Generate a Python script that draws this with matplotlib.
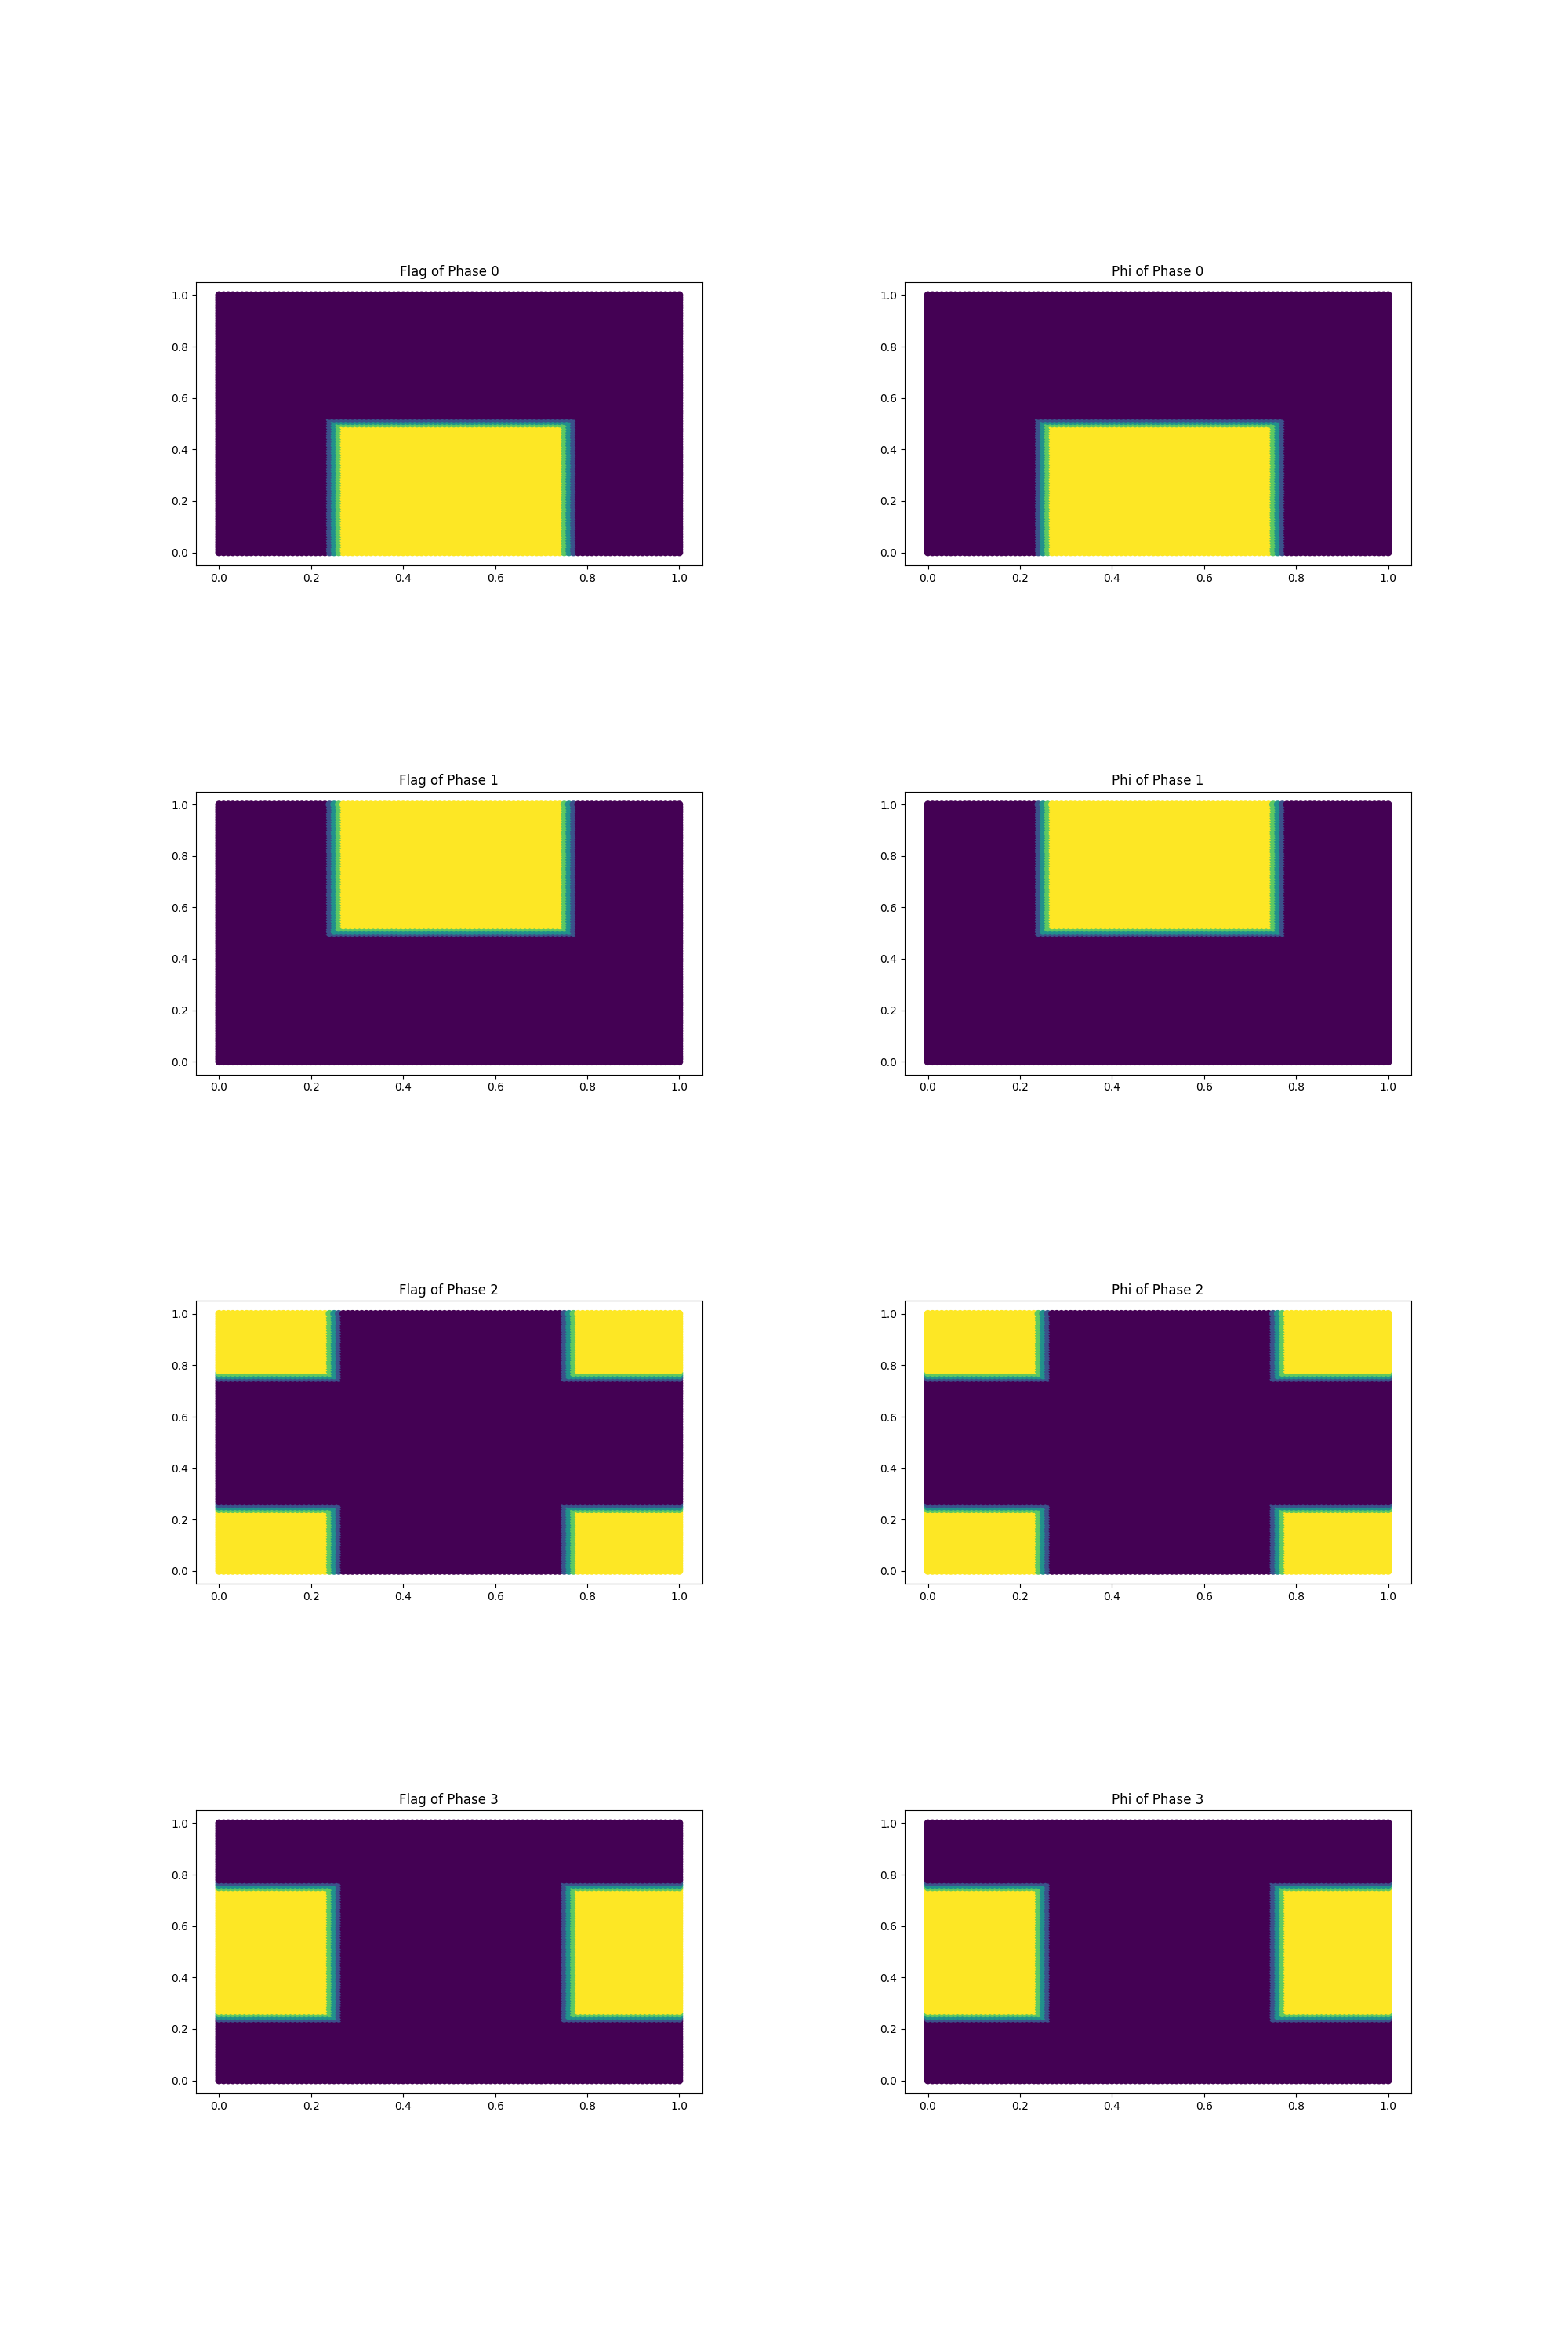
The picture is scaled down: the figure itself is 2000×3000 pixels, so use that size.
import numpy as np
import matplotlib
matplotlib.use("Agg")
import matplotlib.pyplot as plt

# grid resolution of the point cloud
n_points = 101

# yellow regions of each phase (x0, x1, y0, y1)
phase0_boxes = [(0.25, 0.75, 0.0, 0.5)]
phase1_boxes = [(0.25, 0.75, 0.5, 1.0)]
phase2_boxes = [(0.0, 0.25, 0.75, 1.0), (0.75, 1.0, 0.75, 1.0),
                (0.0, 0.25, 0.0, 0.25), (0.75, 1.0, 0.0, 0.25)]
phase3_boxes = [(0.0, 0.25, 0.25, 0.75), (0.75, 1.0, 0.25, 0.75)]
phases = [phase0_boxes, phase1_boxes, phase2_boxes, phase3_boxes]

# values across the interface, one grid step apart (outside -> inside)
interface_levels = [0.0, 0.25, 0.5, 0.75, 1.0]

x = np.linspace(0, 1, n_points)
X, Y = np.meshgrid(x, x)
X = X.ravel()
Y = Y.ravel()
h = x[1] - x[0]
offsets = (np.arange(len(interface_levels)) - len(interface_levels) // 2) * h


def ramp(d):
    # d = signed distance to an edge, positive inside
    return np.interp(d, offsets, interface_levels)


def borde(pos):
    # la interfaz cae en el indice round(pos * N) de la malla
    return np.floor(pos * n_points + 0.5) * h


def campo(boxes):
    val = np.zeros_like(X)
    uno = np.ones_like(X)
    for x0, x1, y0, y1 in boxes:
        parts = [ramp(X - borde(x0)) if x0 > 0 else uno,
                 ramp(borde(x1) - X) if x1 < 1 else uno,
                 ramp(Y - borde(y0)) if y0 > 0 else uno,
                 ramp(borde(y1) - Y) if y1 < 1 else uno]
        val = np.maximum(val, np.min(parts, axis=0))
    return val


fig, axes = plt.subplots(4, 2, figsize=(20, 30), dpi=100)
plt.subplots_adjust(wspace=0.4, hspace=0.8)

for i, boxes in enumerate(phases):
    flag = campo(boxes)
    phi = campo(boxes)
    axes[i, 0].scatter(X, Y, c=flag, cmap='viridis')
    axes[i, 0].set_title(f'Flag of Phase {i}')
    axes[i, 1].scatter(X, Y, c=phi, cmap='viridis')
    axes[i, 1].set_title(f'Phi of Phase {i}')

plt.savefig('out.png')
